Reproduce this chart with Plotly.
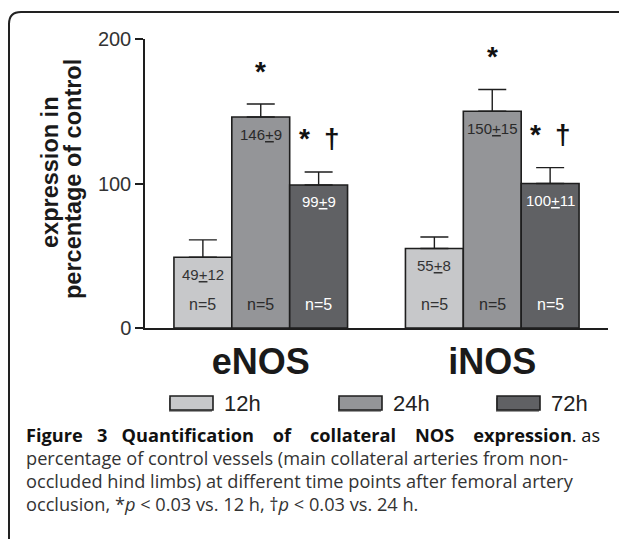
import plotly.graph_objects as go

# ---------------- data ----------------
categories = ["eNOS", "iNOS"]
series = ["12h", "24h", "72h"]
mean_12h = [49, 55]
mean_24h = [146, 150]
mean_72h = [99, 100]
sem_12h = [12, 8]
sem_24h = [9, 15]
sem_72h = [9, 11]
n_12h = [5, 5]
n_24h = [5, 5]
n_72h = [5, 5]
sig_12h = ["", ""]
sig_24h = ["*", "*"]
sig_72h = ["*\u2002\u2020", "*\u2002\u2020"]
y_ticks = [0, 100, 200]
y_title_lines = ["expression in", "percentage of control"]
caption_words = ["Figure", "3", "Quantification", "of", "collateral", "NOS", "expression"]
caption_gaps = [3, 3, 4, 4, 4, 4]
caption_rest = [
    "percentage of control vessels (main collateral arteries from non-",
    "occluded hind limbs) at different time points after femoral artery",
    "occlusion, *<i>p</i> &lt; 0.03 vs. 12 h, \u2020<i>p</i> &lt; 0.03 vs. 24 h.",
]

means = [mean_12h, mean_24h, mean_72h]
sems = [sem_12h, sem_24h, sem_72h]
ns = [n_12h, n_24h, n_72h]
sigs = [sig_12h, sig_24h, sig_72h]

# justified bold first caption line
first = caption_words[0]
for w, g in zip(caption_words[1:], caption_gaps):
    first += "\u00a0" * g + w
caption_lines = [f"<b>{first}</b>.\u00a0as"] + caption_rest

# ---------------- style ----------------
# page has an 8px body margin, so the figure is 8px smaller than the window
OFF = 8
W, H = 627 - OFF, 539 - OFF
PLOT_L, PLOT_R, PLOT_T, PLOT_B = 145, 608, 39, 328   # in screenshot pixels
L, T = PLOT_L - OFF, PLOT_T - OFF
R, B = W - (PLOT_R - OFF), H - (PLOT_B - OFF)
PW, PH = PLOT_R - PLOT_L, PLOT_B - PLOT_T
colors = ["#c7c8ca", "#949598", "#606164"]
label_colors = ["#333333", "#2a2a2a", "#ffffff"]
FONT = "Liberation Sans, Arial, sans-serif"
CAP_FONT = "Open Sans, Noto Sans, sans-serif"
ink = "#1e1e1e"


def px(x):
    return (x - PLOT_L) / PW


def py(y):
    return (PLOT_B - y) / PH


fig = go.Figure()
for j, s in enumerate(series):
    fig.add_trace(go.Bar(
        name=s, x=categories, y=means[j],
        marker=dict(color=colors[j], line=dict(color=ink, width=1.6)),
        error_y=dict(type="data", symmetric=False, array=sems[j],
                     arrayminus=[0] * len(categories),
                     color=ink, thickness=1.4, width=14),
        showlegend=False, hoverinfo="skip",
    ))

annotations = []
offsets = [-0.25, 0.0, 0.25]
for j, s in enumerate(series):
    for i, c in enumerate(categories):
        xpos = i + offsets[j]
        annotations.append(dict(
            x=xpos, y=means[j][i], xref="x", yref="y", yshift=-17,
            text=f"{means[j][i]}<u>+</u>{sems[j][i]}", showarrow=False,
            font=dict(family=FONT, size=15, color=label_colors[j]),
            xanchor="center", yanchor="middle"))
        annotations.append(dict(
            x=xpos, y=0, xref="x", yref="y", yshift=24,
            text=f"n={ns[j][i]}", showarrow=False,
            font=dict(family=FONT, size=16, color=label_colors[j]),
            xanchor="center", yanchor="middle"))
        if sigs[j][i]:
            annotations.append(dict(
                x=xpos, y=means[j][i] + sems[j][i], xref="x", yref="y",
                yshift=33, text=sigs[j][i], showarrow=False,
                font=dict(family=FONT, size=28, color="#111111", weight="bold"),
                xanchor="center", yanchor="middle"))

# y-axis title (two rotated lines)
title_x = [50, 73]
title_y = [172, 179]
for k, line in enumerate(y_title_lines):
    annotations.append(dict(
        x=px(title_x[k]), y=py(title_y[k]), xref="paper", yref="paper",
        text=f"<b>{line}</b>", textangle=-90, showarrow=False,
        xanchor="center", yanchor="middle",
        font=dict(family=FONT, size=23.5, color="#1a1a1a")))

# legend (custom wide swatches)
legend_x = [170, 339, 497]
for j, s in enumerate(series):
    x0 = legend_x[j]
    annotations.append(dict(
        x=px(x0 + 52), y=py(403), xref="paper", yref="paper", text=s,
        showarrow=False, xanchor="left", yanchor="middle",
        font=dict(family=FONT, size=22, color="#222222")))

# caption
cap_y = [435, 458, 481, 504]
for k, line in enumerate(caption_lines):
    annotations.append(dict(
        x=px(24), y=py(cap_y[k]), xref="paper", yref="paper", text=line,
        showarrow=False, xanchor="left", yanchor="middle",
        font=dict(family=CAP_FONT, size=18.2, color="#333333" if k else "#111111")))

shapes = []
for j, s in enumerate(series):
    x0 = legend_x[j]
    shapes.append(dict(type="rect", xref="paper", yref="paper",
                       x0=px(x0 - 1), x1=px(x0 + 42), y0=py(412), y1=py(398),
                       fillcolor="#9a9a9a", line=dict(width=0)))
    shapes.append(dict(type="rect", xref="paper", yref="paper",
                       x0=px(x0), x1=px(x0 + 43), y0=py(410), y1=py(396),
                       fillcolor=colors[j], line=dict(color=ink, width=1.6)))

# rounded frame (open on right and bottom)
frame = (f"M {px(9)},{py(560)} L {px(9)},{py(24)} "
         f"Q {px(9)},{py(12)} {px(21)},{py(12)} L {px(640)},{py(12)}")
shapes.append(dict(type="path", xref="paper", yref="paper", path=frame,
                   line=dict(color="#222222", width=2)))

fig.update_layout(
    width=W, height=H,
    margin=dict(l=L, r=R, t=T, b=B, autoexpand=False),
    paper_bgcolor="white", plot_bgcolor="white",
    barmode="group", bargap=0.25, bargroupgap=0,
    annotations=annotations, shapes=shapes,
    font=dict(family=FONT, color="#222222"),
    xaxis=dict(type="category", range=[-0.5, 1.5], showline=True,
               linecolor=ink, linewidth=1.5, ticks="", showgrid=False,
               tickfont=dict(family=FONT, size=36, color="#1a1a1a", weight="bold"),
               ticklabelstandoff=1, automargin=False),
    yaxis=dict(range=[0, 200], tickvals=y_ticks, showline=True,
               linecolor=ink, linewidth=1.5, ticks="outside", ticklen=8,
               tickwidth=1.5, tickcolor=ink, showgrid=False, zeroline=False,
               tickfont=dict(family=FONT, size=20, color="#333333"),
               automargin=False),
)

fig.write_html("out.html")
